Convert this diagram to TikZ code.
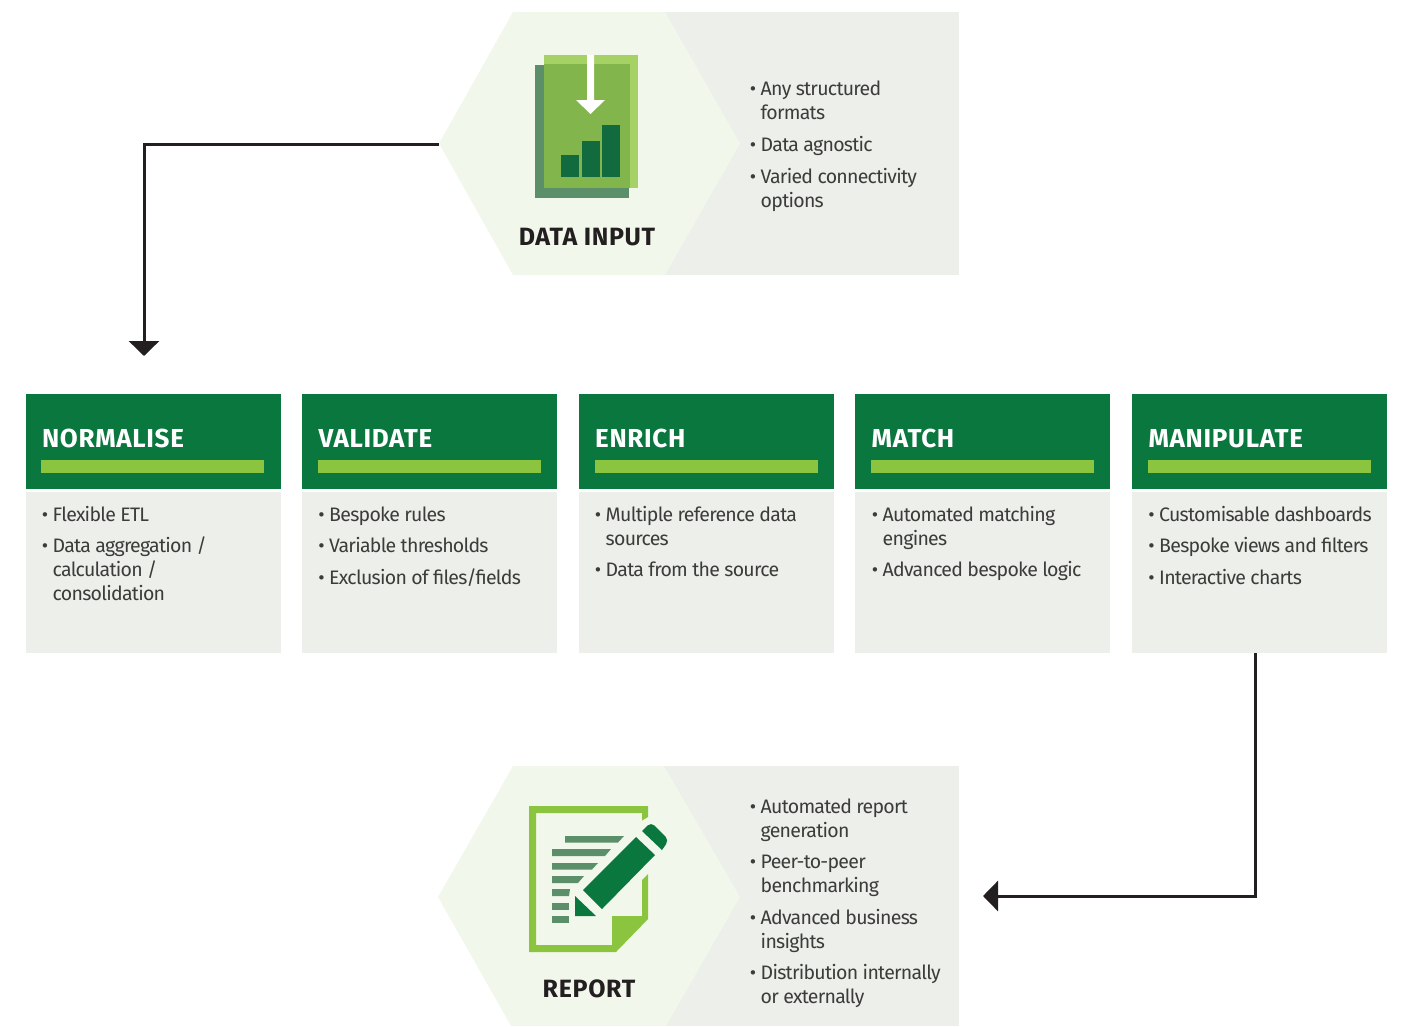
\documentclass[tikz,border=0pt]{standalone}
\usepackage{fontspec}
\setmainfont{Fira Sans}[LetterSpace=-3.7]
\newfontfamily\boldhead{Fira Sans Bold}[LetterSpace=2.6]
\usetikzlibrary{arrows.meta}
\definecolor{hexc}{HTML}{F2F7EC}
\definecolor{greyc}{HTML}{ECEFEA}
\definecolor{headc}{HTML}{0A773E}
\definecolor{barc}{HTML}{8BC53F}
\definecolor{inkc}{HTML}{231F20}
\definecolor{txtc}{HTML}{3C3C3B}
\definecolor{mutec}{HTML}{5A8F6A}
\definecolor{darkc}{HTML}{126A3F}
\definecolor{midc}{HTML}{82B54B}
\definecolor{lightc}{HTML}{A5D165}
\tikzset{
  head/.style={fill=headc,inner sep=0,minimum width=255pt,minimum height=95pt,anchor=north west},
  bodyb/.style={fill=greyc,inner sep=0,minimum width=255pt,minimum height=161.5pt,anchor=north west},
  greenbar/.style={fill=barc,draw=none},
  headtxt/.style={text=white,inner sep=0,anchor=base west,font=\fontsize{26}{30}\selectfont\boldhead},
  bigtxt/.style={text=inkc,inner sep=0,anchor=base,font=\fontsize{25}{30}\selectfont\boldhead},
  itemtxt/.style={text=txtc,inner sep=0,anchor=north west,align=left,font=\fontsize{19.5}{24}\selectfont},
  bul/.style={text=txtc,inner sep=0,anchor=base,font=\fontsize{19.5}{24}\selectfont},
  flow/.style={draw=inkc,line width=3pt,-{Triangle[width=30pt,length=15pt,color=inkc]}},
}
% #1 bullet x, #2 baseline y, #3 name, #4 text
\newcommand{\bulletitem}[4]{%
  \node[bul] at (#1+3,#2) {•};
  \node[itemtxt] (#3) at (#1+10.5,#2-16.8) {\strut #4};
}
\begin{document}
\begin{tikzpicture}[x=1pt,y=-1pt]
\useasboundingbox (0,0) rectangle (1404,1026);
% DATA INPUT panel
\fill[greyc] (600,12) rectangle (959,275);
\fill[hexc] (439,143.5) -- (513,12) -- (665,12) -- (740,143.5) -- (665,275) -- (513,275) -- cycle;
\coordinate (inputvertex) at (439,144);
% REPORT panel
\fill[greyc] (600,766) rectangle (959,1026);
\fill[hexc] (438,897) -- (513,766) -- (664,766) -- (740,897) -- (666,1026) -- (511,1026) -- cycle;
% data icon
\fill[mutec] (535,65) rectangle (629,198);
\fill[lightc] (544,55) rectangle (637.5,188);
\fill[midc] (544,64) rectangle (630,188);
\fill[white] (587,55) -- (594,55) -- (594,100) -- (605,100) -- (590.5,114) -- (576,100) -- (587,100) -- cycle;
\fill[darkc] (561,155) rectangle (579,177);
\fill[darkc] (582,141) rectangle (600,177);
\fill[darkc] (602,125) rectangle (620,177);
\node[bigtxt] (inputlabel) at (587,245) {DATA INPUT};
% report icon
\fill[barc] (529,806) -- (648,806) -- (648,817) -- (642,820.5) -- (642,813) -- (536,813) -- (536,945) -- (612,945) -- (612,916) -- (642,916) -- (642,880) -- (648,874) -- (648,919) -- (616,952) -- (529,952) -- cycle;
\fill[mutec] (565,836) -- (624,836) -- (618,842.5) -- (565,842.5) -- cycle;
\fill[mutec] (552,849) -- (611,849) -- (605,856) -- (552,856) -- cycle;
\fill[mutec] (552,863) -- (598,863) -- (592,869.5) -- (552,869.5) -- cycle;
\fill[mutec] (552,876) -- (584,876) -- (578,883) -- (552,883) -- cycle;
\fill[mutec] (552,889) -- (570,889) -- (569,896) -- (552,896) -- cycle;
\fill[mutec] (552,903) rectangle (569,909.5);
\fill[mutec] (552,916) rectangle (569,922.5);
\fill[headc] (636,837) -- (655,855) -- (602,909) -- (583,890) -- cycle;
\fill[headc] (575,896) -- (575,916) -- (596,916) -- cycle;
\fill[headc] (642,831) [rounded corners=5pt] -- (651,822) -- (669,840) [sharp corners] -- (662,850) -- cycle;
\node[bigtxt] (reportlabel) at (589,997) {REPORT};
% stage boxes
\foreach \nm/\x/\ttl in {normalise/25.3/NORMALISE,validate/301.8/VALIDATE,enrich/578.5/ENRICH,match/855/MATCH,manipulate/1131.9/MANIPULATE}{
  \node[head] (\nm head) at (\x,394) {};
  \node[bodyb] (\nm body) at (\x,491.5) {};
  \fill[greenbar] (\x+16,460) rectangle (\x+239,473);
  \node[headtxt] (\nm title) at (\x+16.5,447) {\ttl};
}
% data input bullets
\bulletitem{750}{95}{ia}{Any structured\\formats}
\bulletitem{750}{151}{ib}{Data agnostic}
\bulletitem{750}{183}{ic}{Varied connectivity\\options}
% normalise
\bulletitem{42}{521}{na}{Flexible ETL}
\bulletitem{42}{552}{nb}{Data aggregation /\\calculation /\\consolidation}
% validate
\bulletitem{318.5}{521}{va}{Bespoke rules}
\bulletitem{318.5}{552}{vb}{Variable thresholds}
\bulletitem{318.5}{584}{vc}{Exclusion of files/fields}
% enrich
\bulletitem{595}{521}{ea}{Multiple reference data\\sources}
\bulletitem{595}{576}{eb}{Data from the source}
% match
\bulletitem{872}{521}{ma}{Automated matching\\engines}
\bulletitem{872}{576}{mb}{Advanced bespoke logic}
% manipulate
\bulletitem{1148.5}{521}{pa}{Customisable dashboards}
\bulletitem{1148.5}{552}{pb}{Bespoke views and filters}
\bulletitem{1148.5}{584}{pc}{Interactive charts}
% report bullets
\bulletitem{750}{813}{ra}{Automated report\\generation}
\bulletitem{750}{868}{rb}{Peer-to-peer\\benchmarking}
\bulletitem{750}{924}{rc}{Advanced business\\insights}
\bulletitem{750}{979}{rd}{Distribution internally\\or externally}
% connectors
\coordinate (inelbow) at (144,144);
\coordinate (intip) at (144,356);
\draw[flow] (inputvertex) -- (inelbow) -- (intip);
\coordinate (outelbow) at (1255.5,896);
\coordinate (outtip) at (983,896);
\draw[flow] (outelbow |- manipulatebody.south) -- (outelbow) -- (outtip);
\end{tikzpicture}
\end{document}
